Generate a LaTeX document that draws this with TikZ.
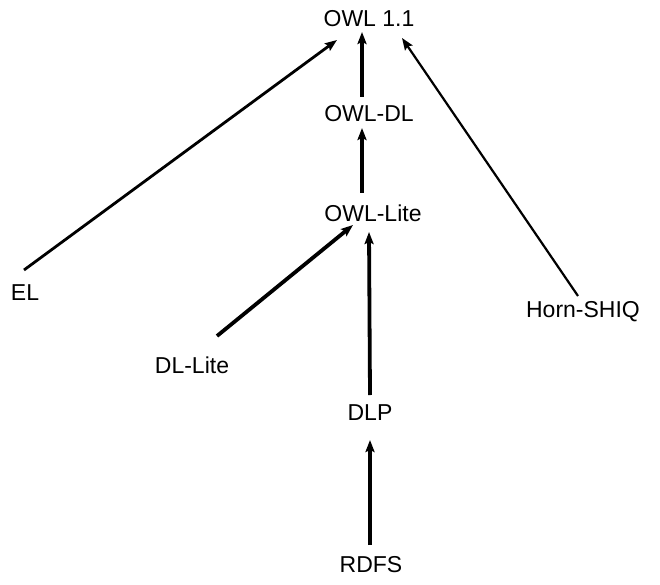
\documentclass[tikz,border=0pt]{standalone}
\usepackage{fontspec}
\setmainfont{Liberation Sans}
\usetikzlibrary{arrows.meta,calc}
\tikzset{
  lbl/.style={anchor=base,inner sep=0pt,font=\fontsize{23}{27}\selectfont},
  arr/.style={-{Stealth[length=12pt,width=9pt,inset=2pt]},line width=#1},
  arr/.default=3.8pt
}
\begin{document}
\begin{tikzpicture}[x=1pt,y=-1pt]
\useasboundingbox (0,0) rectangle (660,585);
\node[lbl] (owl) at (369,27) {OWL 1.1};
\node[lbl] (owldl) at (369,122) {OWL-DL};
\node[lbl] (owllite) at (373,222) {OWL-Lite};
\node[lbl] (el) at (25,300) {EL};
\node[lbl] (dllite) at (192,373) {DL-Lite};
\node[lbl] (dlp) at (370,420) {DLP};
\node[lbl] (rdfs) at (371,572) {RDFS};
\node[lbl] (horn) at (583,317) {Horn-SHIQ};
\draw[arr] ($(owldl.base)+(-7,-25)$) -- ($(owl.base)+(-7,5)$);
\draw[arr] ($(owllite.base)+(-11,-29)$) -- ($(owldl.base)+(-7,6)$);
\draw[arr=2.8pt] ($(el.base)+(-1,-30)$) -- ($(owl.base)+(-32,13)$);
\draw[arr=2.2pt] ($(horn.base)+(-5,-21)$) -- ($(owl.base)+(33,11)$);
\draw[arr] ($(dllite.base)+(25,-37)$) -- ($(owllite.base)+(-20,3)$);
\draw[arr] ($(dlp.base)+(0,-25)$) -- ($(owllite.base)+(-4,10)$);
\draw[arr] ($(rdfs.base)+(-1,-27)$) -- ($(dlp.base)+(0,20)$);
\end{tikzpicture}
\end{document}
